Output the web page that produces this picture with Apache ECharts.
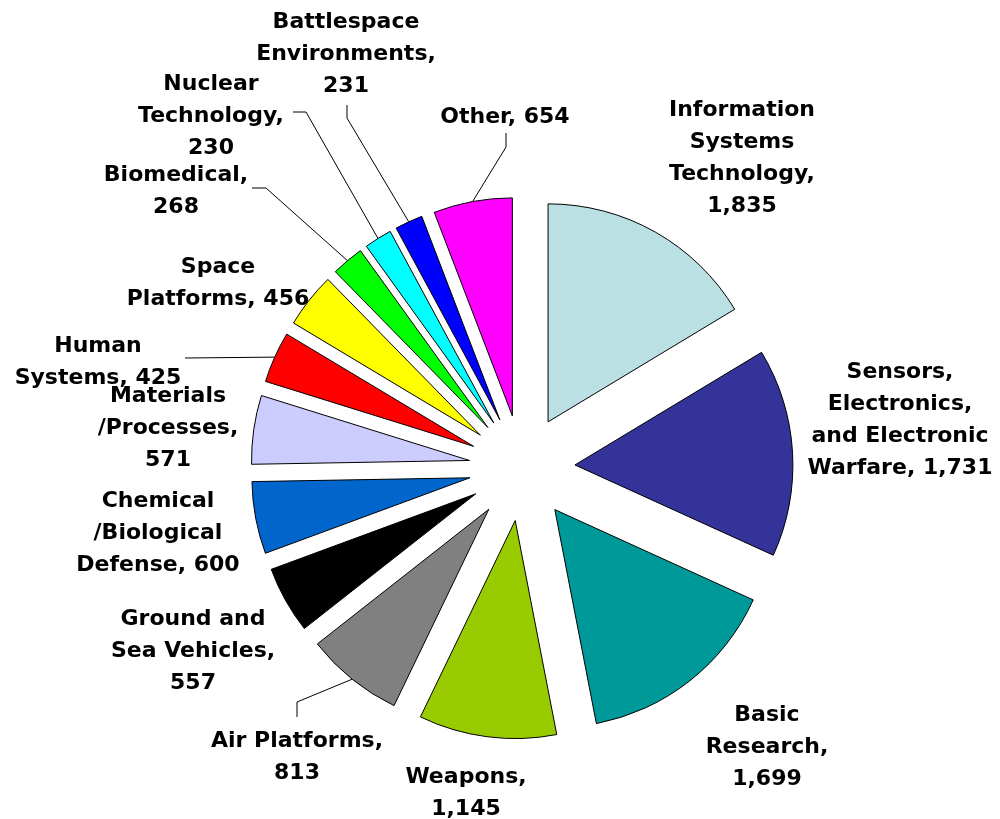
<!DOCTYPE html>
<html><head><meta charset="utf-8">
<script src="https://cdn.jsdelivr.net/npm/echarts@6/dist/echarts.min.js"></script>
<style>html,body{margin:0;padding:0;background:#fff}#c{width:1000px;height:819px}</style>
</head><body><div id="c"></div>
<script>
// ---- Data (clockwise from 12 o'clock) ----
const categories = [
  'Information\nSystems\nTechnology',
  'Sensors,\nElectronics,\nand Electronic\nWarfare',
  'Basic\nResearch',
  'Weapons',
  'Air Platforms',
  'Ground and\nSea Vehicles',
  'Chemical\n/Biological\nDefense',
  'Materials\n/Processes',
  'Human\nSystems',
  'Space\nPlatforms',
  'Biomedical',
  'Nuclear\nTechnology',
  'Battlespace\nEnvironments',
  'Other'
];
const values = [1835, 1731, 1699, 1145, 813, 557, 600, 571, 425, 456, 268, 230, 231, 654];
const colors = ['#BBE0E3', '#333399', '#009999', '#99CC00', '#808080', '#000000', '#0066CC',
  '#CCCCFF', '#FF0000', '#FFFF00', '#00FF00', '#00FFFF', '#0000FF', '#FF00FF'];
const valueOnNewLine = [true, false, true, true, true, true, false, true, false, false, true, true, true, false];

// ---- Layout (not data) ----
const CX = 522, CY = 468, R = 218, EXPLODE = 53;
// label block centres
const labelPos = [[742,158],[900,420],[767,747],[466,793],[297,757],[193,651],[158,533],
  [168,428],[98,362],[218,283],[176,191],[211,116],[346,54],[505,117]];
// leader lines: [bend, end] (null = no leader)
const leader = [null, null, null, null,
  [[297,702],[297,717]], null, null, null,
  [[185,358],[185,358]], null,
  [[266,188],[252,188]],
  [[306,112],[293,112]],
  [[347,118],[347,105]],
  [[506,147],[506,133]]];

const total = values.reduce((a, b) => a + b, 0);
function midAngle(i) {
  let before = 0;
  for (let k = 0; k < i; k++) before += values[k];
  return (before + values[i] / 2) / total * 2 * Math.PI; // clockwise from 12 o'clock
}
function explodedCenter(i) {
  const a = midAngle(i);
  return [CX + EXPLODE * Math.sin(a), CY - EXPLODE * Math.cos(a)];
}
function arcMid(i) {
  const a = midAngle(i), c = explodedCenter(i);
  return [c[0] + R * Math.sin(a), c[1] - R * Math.cos(a)];
}
const fmt = (i) => categories[i] + ',' + (valueOnNewLine[i] ? '\n' : ' ') + values[i].toLocaleString('en-US');

// One pie series per slice (same full data, only its own slice visible),
// each centred on its exploded position.
const series = values.map((_, i) => ({
  type: 'pie',
  center: explodedCenter(i),
  radius: [0, R],
  startAngle: 90,
  clockwise: true,
  silent: true,
  avoidLabelOverlap: false,
  emphasis: {disabled: true},
  label: {
    show: false,
    position: 'outside',
    fontFamily: 'DejaVu Sans, sans-serif',
    fontWeight: 'bold',
    fontSize: 22,
    lineHeight: 32,
    color: '#000',
    align: 'center',
    formatter: p => fmt(p.dataIndex)
  },
  labelLine: {show: false, lineStyle: {color: '#000', width: 1}, length: 10, length2: 10},
  labelLayout: function (p) {
    const k = p.dataIndex;
    const out = {x: labelPos[k][0], y: labelPos[k][1], align: 'center', verticalAlign: 'middle', hideOverlap: false};
    if (leader[k]) out.labelLinePoints = [arcMid(k), leader[k][0], leader[k][1]];
    return out;
  },
  data: values.map((v, j) => j === i ? {
    name: categories[j], value: v,
    itemStyle: {color: colors[j], borderColor: '#000', borderWidth: 1},
    label: {show: true},
    labelLine: {show: !!leader[j]}
  } : {
    name: categories[j], value: v,
    itemStyle: {color: 'rgba(0,0,0,0)', borderWidth: 0},
    label: {show: false},
    labelLine: {show: false}
  })
}));

const chart = echarts.init(document.getElementById('c'), null, {renderer: 'canvas'});
chart.setOption({
  animation: false,
  backgroundColor: '#ffffff',
  series: series
});
</script>
</body></html>
